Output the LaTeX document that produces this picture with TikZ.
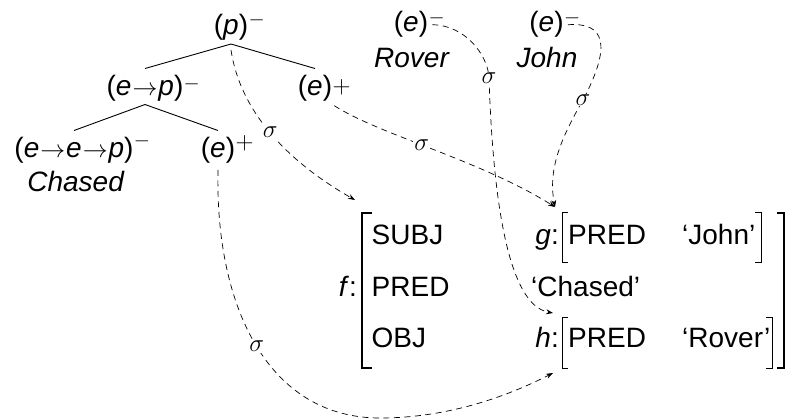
\documentclass[tikz,border=0pt]{standalone}
\usepackage{fontspec}
\setmainfont{Liberation Sans}
\usetikzlibrary{arrows.meta}
\newcommand\mysup[2]{\raisebox{#1}{\fontsize{20}{20}\selectfont$#2$}}
\newcommand\myplus[1]{\raisebox{#1}{$+$}}
\newcommand\ar{\kern1pt$\to$\kern1pt}
\begin{document}
\begin{tikzpicture}[x=1pt,y=-1pt,
  lbl/.style={inner sep=0pt, font=\fontsize{28}{33}\selectfont},
  sig/.style={fill=white, inner sep=1pt, font=\fontsize{31}{36}\selectfont},
  treeln/.style={line width=0.9pt},
  glue/.style={dash pattern=on 6pt off 4.5pt, line width=0.7pt, -{Stealth[length=7pt,width=5pt]}},
  bigbr/.style={line width=1.3pt},
  smallbr/.style={line width=0.9pt}]
\useasboundingbox (0,0) rectangle (785,419);
% tree
\node[lbl,anchor=base] (P) at (231,35) {(\textit{p})};
\node[lbl,anchor=base west] (Ps) at (P.base east) {\mysup{9pt}{-}};
\node[lbl,anchor=base] (EP) at (145,96) {(\textit{e}\ar\textit{p})};
\node[lbl,anchor=base west] (EPs) at (EP.base east) {\mysup{6pt}{-}};
\node[lbl,anchor=base] (E1) at (315,96) {(\textit{e})};
\node[lbl,anchor=base west] (E1s) at (E1.base east) {\myplus{2pt}};
\node[lbl,anchor=base] (EEP) at (74,158) {(\textit{e}\ar\textit{e}\ar\textit{p})};
\node[lbl,anchor=base west] (EEPs) at (EEP.base east) {\mysup{11pt}{-}};
\node[lbl,anchor=base] (E2) at (218,158) {(\textit{e})};
\node[lbl,anchor=base west] (E2s) at (E2.base east) {\myplus{8pt}};
\node[lbl,anchor=base] (CH) at (76,192) {\textit{Chased}};
\node[lbl,anchor=base] (RE) at (411,32) {(\textit{e})};
\node[lbl,anchor=base west] (REs) at (RE.base east) {\mysup{8pt}{-}};
\node[lbl,anchor=base] (RV) at (412,68) {\textit{Rover}};
\node[lbl,anchor=base] (JE) at (546.5,32) {(\textit{e})};
\node[lbl,anchor=base west] (JEs) at (JE.base east) {\mysup{8pt}{-}};
\node[lbl,anchor=base] (JN) at (547,68) {\textit{John}};
\draw[treeln] ([yshift=-3pt]P.south) -- ([yshift=7pt]EP.north);
\draw[treeln] ([yshift=-3pt]P.south) -- ([yshift=7pt]E1.north);
\draw[treeln] ([yshift=-2.5pt]EP.south) -- ([yshift=7pt]EEP.north);
\draw[treeln] ([yshift=-2.5pt]EP.south) -- ([yshift=7pt]E2.north);
% f-structure
\node[lbl,anchor=base east] (fL) at (357,297) {\textit{f}:};
\node[lbl,anchor=base west] (SUBJ) at (371.5,245) {SUBJ};
\node[lbl,anchor=base west] (PRED) at (371.5,297) {PRED};
\node[lbl,anchor=base west] (OBJ) at (371.5,348) {OBJ};
\node[lbl,anchor=base east] (gL) at (559,245) {\textit{g}:};
\node[lbl,anchor=base west] (gP) at (568,245) {PRED};
\node[lbl,anchor=base west] (gJ) at (682,245) {‘John’};
\node[lbl,anchor=base west] (fC) at (531,297) {‘Chased’};
\node[lbl,anchor=base east] (hL) at (559,348) {\textit{h}:};
\node[lbl,anchor=base west] (hP) at (568,348) {PRED};
\node[lbl,anchor=base west] (hR) at (682,348) {‘Rover’};
\draw[bigbr] (372,213) -| (362,368) -- (372,368);
\draw[bigbr] (777,213) -| (784,368) -- (777,368);
\draw[smallbr] (568,212) -| (562,262) -- (568,262);
\draw[smallbr] (755,212) -| (761,262) -- (755,262);
\draw[smallbr] (568,317) -| (562,368) -- (568,368);
\draw[smallbr] (766,317) -| (772,368) -- (766,368);
\coordinate (fA) at (355,200);
\coordinate (gA) at (555,207);
\coordinate (hA1) at (553,313);
\coordinate (hA2) at (553,373);
% glue curves
\draw[glue] ([yshift=-9pt]P.south) .. controls (240,110) and (285,160) .. (fA) node[sig,pos=0.5]{$\sigma$};
\draw[glue] ([xshift=2pt,yshift=-3.7pt]E1.south east) .. controls (380,135) and (480,160) .. (gA) node[sig,pos=0.45]{$\sigma$};
\draw[glue] ([yshift=-6pt]E2.south) .. controls (215,310) and (270,418) .. (380,418) node[sig,pos=0.5]{$\sigma$} .. controls (450,418) and (510,395) .. (hA2);
\draw[glue] ([xshift=4pt]RE.east) .. controls (465,25) and (488,55) .. (489,78) node[sig]{$\sigma$} .. controls (493,200) and (508,305) .. (hA1);
\draw[glue] ([xshift=4pt]JE.east) .. controls (605,22) and (612,45) .. (583,100) node[sig]{$\sigma$} .. controls (560,140) and (548,170) .. (gA);
\end{tikzpicture}
\end{document}
